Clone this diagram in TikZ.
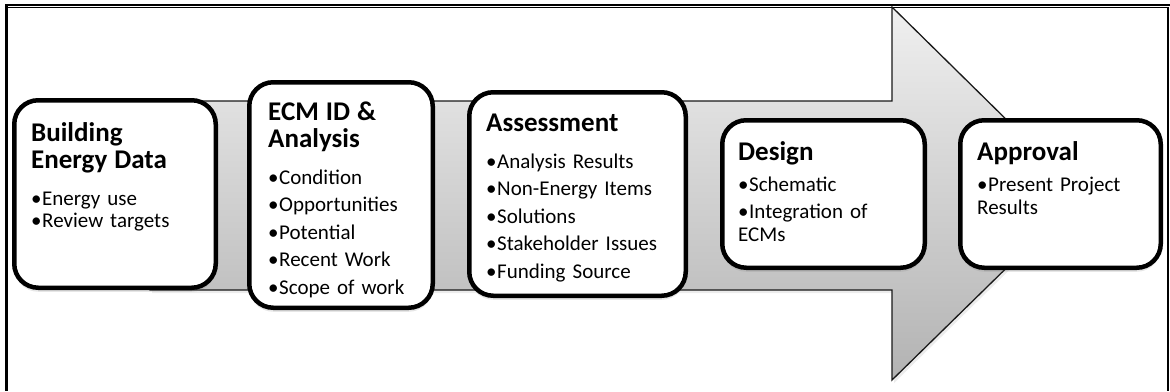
\documentclass[tikz,border=0pt]{standalone}
\usepackage{fontspec}
\setmainfont{Carlito}
\usetikzlibrary{shadows}

\newcommand{\stagetitle}[1]{{\fontsize{27}{27}\selectfont\bfseries #1\par}}
\newcommand{\bul}[2][4.5pt]{\par\vspace{#1}\hangindent=11pt\makebox[11pt][l]{\textbullet}#2}

\begin{document}
\begin{tikzpicture}[x=1pt,y=-1pt,
  stage/.style={draw, line width=4.5pt, rounded corners=24pt, fill=white, inner sep=0pt,
    drop shadow={shadow xshift=0pt, shadow yshift=-4pt, opacity=0.2, fill=black!50}},
  stagetext/.style={anchor=base west, inner sep=0pt, text width=200pt, align=left,
    font=\fontsize{21}{23}\selectfont},
  flowarrow/.style={draw=black!90, line width=1.3pt, top color=black!6, bottom color=black!30,
    drop shadow={shadow xshift=2pt, shadow yshift=-3pt, opacity=0.15, fill=black!50}}]
\useasboundingbox (0,0) rectangle (1170,391);

% frame
\draw[line width=2.5pt] (5,5) -- (1170,5);
\draw[line width=1pt] (8,7.8) -- (1167,7.8);
\draw[line width=3pt] (6.5,4) -- (6.5,391);
\draw[line width=2pt] (1168,7.3) -- (1168,391);

% big arrow
\draw[flowarrow] (150,101) -- (892,101) -- (892,7) -- (1082,194) -- (892,380) -- (892,290) -- (150,290) -- cycle;

% stages
\node[stage, minimum width=201.5pt, minimum height=187.5pt] (b1) at (115,194) {};
\node[stage, minimum width=183.5pt, minimum height=225.5pt] (b2) at (341,195) {};
\node[stage, minimum width=216.5pt, minimum height=203.5pt] (b3) at (577.5,194) {};
\node[stage, minimum width=202.5pt, minimum height=147.5pt] (b4) at (823.5,194) {};
\node[stage, minimum width=200.5pt, minimum height=147.5pt] (b5) at (1060.5,194) {};

\node[stagetext] (t1) at (31,141) {\stagetitle{Building\\Energy Data}
  \bul[14pt]{Energy use}\bul[-1pt]{Review targets}};
\node[stagetext] (t2) at (268,120) {\stagetitle{ECM ID \&\\Analysis}
  \bul[14pt]{Condition}\bul{Opportunities}\bul{Potential}\bul{Recent Work}\bul{Scope of work}};
\node[stagetext] (t3) at (486,131.5) {\stagetitle{Assessment}
  \bul[13.5pt]{Analysis Results}\bul{Non-Energy Items}\bul{Solutions}\bul{Stakeholder Issues}\bul{Funding Source}};
\node[stagetext] (t4) at (738,160) {\stagetitle{Design}
  \bul[8pt]{Schematic}\bul{Integration of\\ECMs}};
\node[stagetext] (t5) at (977,160) {\stagetitle{Approval}
  \bul[8pt]{Present Project\\Results}};
\end{tikzpicture}
\end{document}
